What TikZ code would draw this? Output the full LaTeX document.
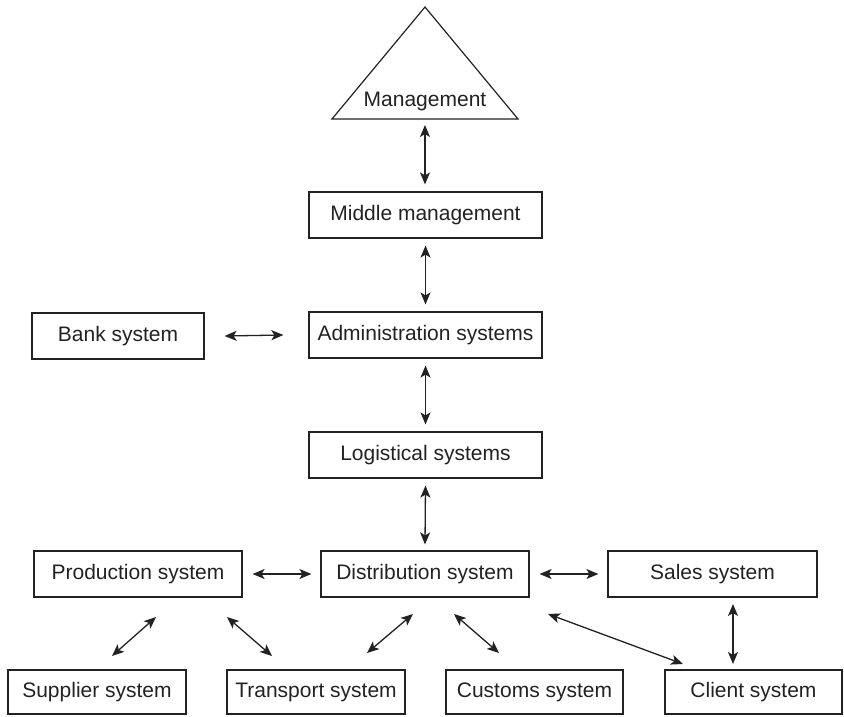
\documentclass[tikz,border=0pt]{standalone}
\usepackage{fontspec}
\setmainfont{Liberation Sans}
\usetikzlibrary{arrows.meta}
\definecolor{ink}{HTML}{222222}
\begin{document}
\begin{tikzpicture}[x=1pt,y=-1pt,
  box/.style={draw=ink,line width=1.2pt,rectangle,minimum height=46pt,inner sep=0pt,
    text=ink,font=\fontsize{21}{25}\selectfont},
  lbl/.style={text=ink,font=\fontsize{21}{25}\selectfont,inner sep=0pt},
  arr/.style={draw=ink,line width=1.3pt,{Stealth[length=12pt,width=10pt,inset=3pt]}-{Stealth[length=12pt,width=10pt,inset=3pt]}}]
\useasboundingbox (0,0) rectangle (844,717);
% triangle
\coordinate (tA) at (425,7);
\coordinate (tL) at (332,119);
\coordinate (tR) at (518,119);
\draw[draw=ink,line width=1.2pt,line join=miter] (tL) -- (tA) -- (tR) -- cycle;
\node[lbl] (mgmt) at (425,101) {Management};
% boxes
\node[box,minimum width=233pt] (mid) at (425.5,215) {Middle management};
\node[box,minimum width=233pt] (admin) at (425.5,335) {Administration systems};
\node[box,minimum width=172pt] (bank) at (118,336) {Bank system};
\node[box,minimum width=233pt] (log) at (425.5,455) {Logistical systems};
\node[box,minimum width=208pt] (prod) at (138,574) {Production system};
\node[box,minimum width=208pt] (dist) at (425,574) {Distribution system};
\node[box,minimum width=209pt] (sales) at (712.5,574) {Sales system};
\node[box,minimum width=178pt,minimum height=44pt] (sup) at (97,692) {Supplier system};
\node[box,minimum width=178pt,minimum height=44pt] (trans) at (316,692) {Transport system};
\node[box,minimum width=177pt,minimum height=44pt] (cust) at (534.5,692) {Customs system};
\node[box,minimum width=177pt,minimum height=44pt] (client) at (753.5,692) {Client system};
% vertical arrows
\coordinate (m1) at (425,125);
\draw[arr] (m1) -- ([yshift=7pt]mid.north -| m1);
\draw[arr] ([yshift=-7pt]mid.south) -- ([yshift=7pt]admin.north);
\draw[arr] ([yshift=-7pt]admin.south) -- ([yshift=7pt]log.north);
\draw[arr] ([yshift=-7pt]log.south) -- ([yshift=6pt]dist.north);
\draw[arr] ([xshift=20pt]bank.east) -- ([xshift=-25pt]admin.west);
\draw[arr] ([xshift=10pt]prod.east) -- ([xshift=-9pt]dist.west);
\draw[arr] ([xshift=10pt]dist.east) -- ([xshift=-9pt]sales.west);
% diagonal arrows
\coordinate (ps1) at (156,617); \coordinate (ps2) at (112,656);
\coordinate (pt1) at (227,617); \coordinate (pt2) at (272,656);
\coordinate (dt1) at (413,614); \coordinate (dt2) at (367,653);
\coordinate (dc1) at (454,614); \coordinate (dc2) at (499,653);
\coordinate (dl1) at (548,614); \coordinate (dl2) at (683,664);
\coordinate (sc1) at (733,604); \coordinate (sc2) at (733,664);
\draw[arr] (ps1) -- (ps2);
\draw[arr] (pt1) -- (pt2);
\draw[arr] (dt1) -- (dt2);
\draw[arr] (dc1) -- (dc2);
\draw[arr] (dl1) -- (dl2);
\draw[arr] (sc1) -- (sc2);
\end{tikzpicture}
\end{document}
